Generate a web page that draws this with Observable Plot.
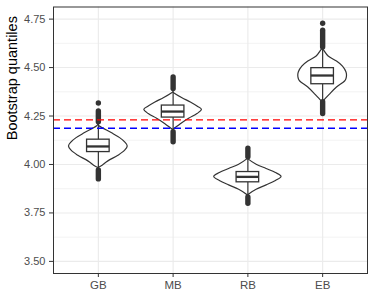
<!DOCTYPE html>
<html><head><meta charset="utf-8">
<script src="https://cdn.jsdelivr.net/npm/d3@7"></script>
<script src="https://cdn.jsdelivr.net/npm/@observablehq/plot@0.6"></script>
<style>body{margin:0;background:#fff;}</style>
</head><body><div id="chart"></div>
<script>
const categories = ["GB", "MB", "RB", "EB"];
const yTicks = [3.5, 3.75, 4.0, 4.25, 4.5, 4.75];
const yMinorTicks = [3.625, 3.875, 4.125, 4.375, 4.625];

// boxplot statistics
const boxQ1 = [4.064, 4.242, 3.908, 4.414];
const boxMedian = [4.093, 4.273, 3.936, 4.459];
const boxQ3 = [4.128, 4.304, 3.961, 4.497];
const whiskerLo = [3.975, 4.170, 3.838, 4.328];
const whiskerHi = [4.212, 4.386, 4.032, 4.602];
// dense outlier runs
const outlierTopLo = [4.218, 4.389, 4.037, 4.604];
const outlierTopHi = [4.273, 4.449, 4.082, 4.690];
const outlierBotHi = [3.969, 4.166, 3.830, 4.321];
const outlierBotLo = [3.923, 4.115, 3.797, 4.260];
const isolatedCat = ["GB", "EB"];
const isolatedY = [4.317, 4.729];

// violin profiles: y levels and half widths (category units)
const violinGB_y = [4.205, 4.196, 4.162, 4.136, 4.114, 4.093, 4.071, 4.045, 4.016, 3.990, 3.982];
const violinGB_w = [0, 0.02, 0.178, 0.291, 0.358, 0.393, 0.358, 0.268, 0.134, 0.04, 0];
const violinMB_y = [4.372, 4.368, 4.342, 4.320, 4.299, 4.282, 4.260, 4.236, 4.208, 4.184, 4.178];
const violinMB_w = [0, 0.013, 0.125, 0.237, 0.326, 0.385, 0.326, 0.214, 0.103, 0.023, 0];
const violinRB_y = [4.030, 4.025, 3.999, 3.977, 3.956, 3.936, 3.915, 3.892, 3.870, 3.844, 3.838];
const violinRB_w = [0, 0.013, 0.117, 0.251, 0.375, 0.45, 0.375, 0.251, 0.117, 0.013, 0];
const violinEB_y = [4.596, 4.591, 4.557, 4.531, 4.505, 4.476, 4.459, 4.440, 4.428, 4.397, 4.359, 4.325, 4.318];
const violinEB_w = [0, 0.013, 0.080, 0.192, 0.272, 0.318, 0.326, 0.318, 0.300, 0.192, 0.094, 0.013, 0];

const refRed = 4.230;
const refBlue = 4.187;

const violinYs = [violinGB_y, violinMB_y, violinRB_y, violinEB_y];
const violinWs = [violinGB_w, violinMB_w, violinRB_w, violinEB_w];
const violinRows = [];
categories.forEach((c, i) => {
  violinYs[i].forEach((y, j) => {
    const w = violinWs[i][j];
    violinRows.push({cat: c, y, x1: i + 1 - w, x2: i + 1 + w});
  });
});
const idx = categories.map((c, i) => i);
const pos = i => i + 1;
const boxHalf = 0.151;
const dark = "#333333";

const chart = Plot.plot({
  width: 374,
  height: 299,
  marginLeft: 53,
  marginRight: 7,
  marginTop: 6.5,
  marginBottom: 26,
  style: {fontFamily: "'Liberation Sans', Arial, sans-serif", background: "white"},
  x: {domain: [0.4, 4.6]},
  y: {domain: [3.4375, 4.8125]},
  marks: [
    Plot.gridY(yMinorTicks, {stroke: "#ebebeb", strokeOpacity: 1, strokeWidth: 0.6}),
    Plot.gridY(yTicks, {stroke: "#ebebeb", strokeOpacity: 1, strokeWidth: 1.1}),
    Plot.gridX([1, 2, 3, 4], {stroke: "#ebebeb", strokeOpacity: 1, strokeWidth: 1.1}),
    Plot.areaX(violinRows, {y: "y", x1: "x1", x2: "x2", z: "cat", curve: "catmull-rom", fill: "white", stroke: dark, strokeWidth: 1.2}),
    Plot.ruleX(idx, {x: pos, y1: i => boxQ3[i], y2: i => whiskerHi[i], stroke: dark, strokeWidth: 1.2}),
    Plot.ruleX(idx, {x: pos, y1: i => boxQ1[i], y2: i => whiskerLo[i], stroke: dark, strokeWidth: 1.2}),
    Plot.ruleX(idx, {x: pos, y1: i => outlierTopLo[i], y2: i => outlierTopHi[i], stroke: dark, strokeWidth: 5.4, strokeLinecap: "round"}),
    Plot.ruleX(idx, {x: pos, y1: i => outlierBotLo[i], y2: i => outlierBotHi[i], stroke: dark, strokeWidth: 5.4, strokeLinecap: "round"}),
    Plot.dot(isolatedY, {x: (d, i) => categories.indexOf(isolatedCat[i]) + 1, y: d => d, r: 2.7, fill: dark, stroke: "none"}),
    Plot.rect(idx, {x1: i => pos(i) - boxHalf, x2: i => pos(i) + boxHalf, y1: i => boxQ1[i], y2: i => boxQ3[i], fill: "white", stroke: dark, strokeWidth: 1.3}),
    Plot.ruleY(idx, {y: i => boxMedian[i], x1: i => pos(i) - boxHalf, x2: i => pos(i) + boxHalf, stroke: dark, strokeWidth: 2.3}),
    Plot.ruleY([refRed], {stroke: "#FF0000", strokeWidth: 1.4, strokeDasharray: "7,4"}),
    Plot.ruleY([refBlue], {stroke: "#0000FF", strokeWidth: 1.4, strokeDasharray: "7,4"}),
    Plot.frame({stroke: dark, strokeWidth: 1}),
    Plot.axisY({ticks: yTicks, tickFormat: d3.format(".2f"), tickSize: 4, tickPadding: 4, fontSize: 11, label: null, stroke: dark}),
    Plot.axisX({ticks: [1, 2, 3, 4], tickFormat: d => categories[d - 1], tickSize: 4, tickPadding: 3, fontSize: 11.5, label: null, stroke: dark}),
    Plot.text(["Bootstrap quantiles"], {text: d => d, frameAnchor: "left", dx: -41, rotate: -90, fontSize: 14.5, fill: "black"})
  ]
});
document.getElementById("chart").appendChild(chart);
d3.select(chart).selectAll('g[aria-label="y-axis tick label"] text, g[aria-label="x-axis tick label"] text').attr("fill", "#4d4d4d");
d3.select(chart).selectAll('g[aria-label="y-axis tick label"], g[aria-label="x-axis tick label"]').attr("fill", "#4d4d4d");
</script>
</body></html>
